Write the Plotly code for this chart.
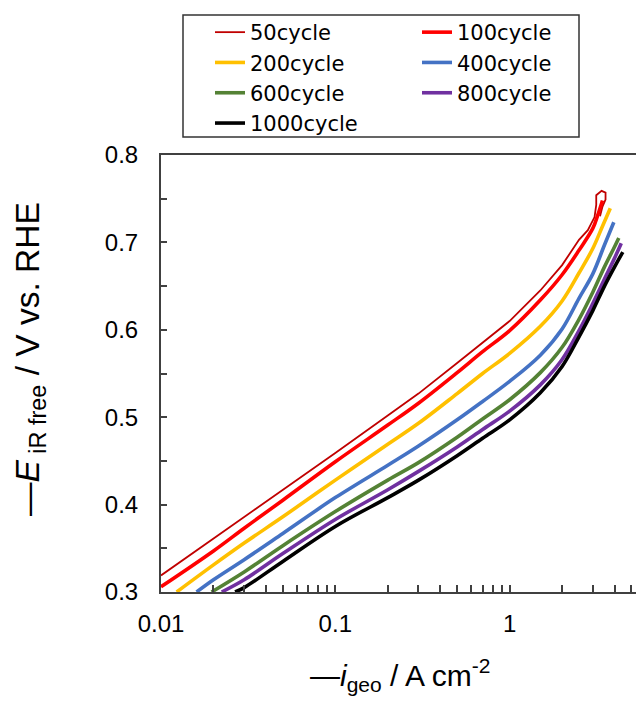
import plotly.graph_objects as go

# ---- data (current density in A cm^-2, potential in V vs RHE) ----
names = ["50cycle", "100cycle", "200cycle", "400cycle", "600cycle", "800cycle", "1000cycle"]

i_50 = [0.01, 0.02, 0.03, 0.05, 0.1, 0.2, 0.3, 0.5, 0.7, 1.0, 1.5, 2.0, 2.5, 2.81, 3.07, 3.14, 3.14, 3.37, 3.55, 3.55, 3.41, 3.30]
e_50 = [0.319, 0.361, 0.386, 0.417, 0.459, 0.502, 0.527, 0.562, 0.585, 0.610, 0.645, 0.674, 0.703, 0.714, 0.729, 0.743, 0.754, 0.759, 0.757, 0.749, 0.741, 0.730]

i_100 = [0.01, 0.02, 0.03, 0.05, 0.1, 0.2, 0.3, 0.5, 0.7, 1.0, 1.5, 2.0, 2.5, 3.0, 3.2, 3.41]
e_100 = [0.306, 0.347, 0.373, 0.405, 0.449, 0.491, 0.516, 0.551, 0.575, 0.599, 0.634, 0.663, 0.691, 0.716, 0.731, 0.748]

i_200 = [0.0123, 0.02, 0.03, 0.05, 0.1, 0.2, 0.3, 0.5, 0.7, 1.0, 1.5, 2.0, 2.5, 3.0, 3.4, 3.78]
e_200 = [0.300, 0.331, 0.356, 0.386, 0.428, 0.469, 0.493, 0.527, 0.550, 0.573, 0.604, 0.633, 0.665, 0.693, 0.718, 0.739]

i_400 = [0.0160, 0.02, 0.03, 0.05, 0.1, 0.2, 0.3, 0.5, 0.7, 1.0, 1.5, 2.0, 2.5, 3.0, 3.5, 3.96]
e_400 = [0.300, 0.314, 0.337, 0.367, 0.408, 0.445, 0.467, 0.497, 0.518, 0.541, 0.571, 0.601, 0.636, 0.664, 0.697, 0.723]

i_600 = [0.0195, 0.03, 0.05, 0.1, 0.2, 0.3, 0.5, 0.7, 1.0, 1.5, 2.0, 2.5, 3.0, 3.5, 4.0, 4.23]
e_600 = [0.300, 0.323, 0.353, 0.392, 0.428, 0.448, 0.477, 0.498, 0.520, 0.551, 0.580, 0.612, 0.643, 0.672, 0.695, 0.705]

i_800 = [0.0223, 0.03, 0.05, 0.1, 0.2, 0.3, 0.5, 0.7, 1.0, 1.5, 2.0, 2.5, 3.0, 3.5, 4.0, 4.37]
e_800 = [0.300, 0.314, 0.344, 0.383, 0.417, 0.438, 0.466, 0.486, 0.507, 0.537, 0.566, 0.599, 0.630, 0.658, 0.682, 0.699]

i_1000 = [0.0266, 0.03, 0.05, 0.1, 0.2, 0.3, 0.5, 0.7, 1.0, 1.5, 2.0, 2.5, 3.0, 3.5, 4.0, 4.46]
e_1000 = [0.300, 0.305, 0.335, 0.375, 0.408, 0.428, 0.456, 0.476, 0.497, 0.528, 0.558, 0.592, 0.622, 0.650, 0.672, 0.689]

x_tickvals = [0.01, 0.1, 1]
x_ticktext = ["0.01", "0.1", "1"]

# ---- styles ----
colors = ["#C00000", "#FF0000", "#FFC000", "#4472C4", "#548235", "#7030A0", "#000000"]
widths = [1.8, 3.6, 3.6, 3.6, 3.6, 3.6, 3.6]
xs = [i_50, i_100, i_200, i_400, i_600, i_800, i_1000]
ys = [e_50, e_100, e_200, e_400, e_600, e_800, e_1000]

W, H = 636, 704
L, R, T, B = 161, 0, 155, 112
pw, ph = W - L - R, H - T - B

def px(xp):
    return (xp - L) / pw

def py(yp):
    return (H - B - yp) / ph

fig = go.Figure()
for k, (n, x, y, c, w) in enumerate(zip(names, xs, ys, colors, widths)):
    fig.add_trace(go.Scatter(x=x, y=y, mode="lines", name=n,
                             line=dict(color=c, width=w,
                                       shape="linear" if k == 0 else "spline",
                                       smoothing=1.0),
                             showlegend=True))

axis_col = "#404040"
font_main = "Liberation Sans, Arial, sans-serif"

fig.update_layout(
    width=W, height=H,
    margin=dict(l=L, r=R, t=T, b=B),
    paper_bgcolor="white", plot_bgcolor="white",
    font=dict(family=font_main, color="black"),
    showlegend=True,
    legend=dict(
        orientation="h",
        x=px(210), y=py(12), xanchor="left", yanchor="top",
        xref="paper", yref="paper",
        entrywidth=162, entrywidthmode="pixels",
        font=dict(size=21, family="DejaVu Sans, sans-serif", color="black"),
        bgcolor="rgba(0,0,0,0)", borderwidth=0,
        traceorder="normal",
    ),
    xaxis=dict(
        type="log", range=[-2, 0.725],
        showline=True, linewidth=2, linecolor=axis_col, mirror=True,
        showgrid=False, zeroline=False,
        ticks="inside", ticklen=7, tickwidth=1.5, tickcolor=axis_col,
        tickvals=x_tickvals, ticktext=x_ticktext,
        tickfont=dict(size=24, color="black"),
        ticklabelstandoff=9,
        minor=dict(ticks="inside", ticklen=7, tickwidth=1.5, tickcolor=axis_col,
                   dtick="D1", showgrid=False),
    ),
    yaxis=dict(
        range=[0.3, 0.8], dtick=0.1, tick0=0.3, tickformat=".1f",
        showline=True, linewidth=2, linecolor=axis_col, mirror=False,
        showgrid=False, zeroline=False,
        ticks="inside", ticklen=6, tickwidth=1.5, tickcolor=axis_col,
        tickfont=dict(size=24, color="black"),
        ticklabelstandoff=16,
        minor=dict(ticks="inside", ticklen=6, tickwidth=1.5, tickcolor=axis_col,
                   dtick=0.05, showgrid=False),
    ),
    shapes=[dict(type="rect", xref="paper", yref="paper",
                 x0=px(183), x1=px(579), y0=py(137), y1=py(15),
                 line=dict(color="#333333", width=1.5), fillcolor="rgba(0,0,0,0)")],
    annotations=[
        dict(text="—<i>i</i><sub>geo</sub> / A cm<sup>-2</sup>",
             xref="paper", yref="paper", x=px(400), y=py(675),
             xanchor="center", yanchor="middle", showarrow=False,
             font=dict(size=30, family=font_main, color="black")),
        dict(text="—<i>E</i><sub> iR free</sub> / V vs. RHE",
             xref="paper", yref="paper", x=px(30), y=py(359),
             xanchor="center", yanchor="middle", showarrow=False, textangle=-90,
             font=dict(size=33.5, family=font_main, color="black")),
    ],
)

fig.write_html("out.html")
